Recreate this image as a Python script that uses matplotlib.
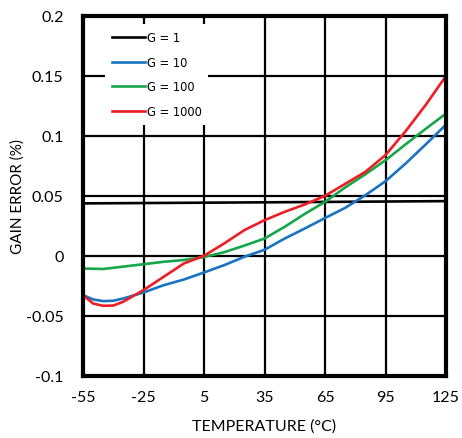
import matplotlib
matplotlib.use("Agg")
import matplotlib.pyplot as plt

plt.rcParams['font.family'] = ['Lato', 'DejaVu Sans']

temps = [-55, -50, -45, -40, -35, -25, -15, -5, 5, 15, 25, 35, 45, 55, 65, 75, 85, 95, 105, 115, 125]

g1_t = [-55, 35, 125]
g1 = [0.0437, 0.0446, 0.0456]

g10 = [-0.0328, -0.0364, -0.0378, -0.0375, -0.0356, -0.0306, -0.0245, -0.0198, -0.0139,
       -0.0078, -0.0008, 0.0050, 0.0144, 0.0228, 0.0315, 0.0400, 0.0505, 0.0622, 0.0770,
       0.0930, 0.1094]

g100 = [-0.0106, -0.0108, -0.0110, -0.0100, -0.0090, -0.0070, -0.0050, -0.0035, -0.0010,
        0.0030, 0.0085, 0.0144, 0.0242, 0.0350, 0.0450, 0.0570, 0.0680, 0.0797, 0.0930,
        0.1060, 0.1186]

g1000 = [-0.0328, -0.0398, -0.0417, -0.0415, -0.0383, -0.0286, -0.0175, -0.0064, 0.0000,
         0.0103, 0.0214, 0.0297, 0.0367, 0.0428, 0.0500, 0.0600, 0.0700, 0.0840, 0.1040,
         0.1260, 0.1500]

labels = ["G = 1", "G = 10", "G = 100", "G = 1000"]
colors = ["#000000", "#1a72c2", "#16a64a", "#ee1d23"]

xticks = [-55, -25, 5, 35, 65, 95, 125]
yticks = [-0.1, -0.05, 0, 0.05, 0.1, 0.15, 0.2]
yticklabels = ["-0.1", "-0.05", "0", "0.05", "0.1", "0.15", "0.2"]

fig = plt.figure(figsize=(4.62, 4.39), dpi=100)
ax = fig.add_axes([0.1797, 0.1419, 0.7857, 0.8194])

ax.plot(g1_t, g1, color=colors[0], lw=1.9, label=labels[0])
ax.plot(temps, g10, color=colors[1], lw=1.9, label=labels[1])
ax.plot(temps, g100, color=colors[2], lw=1.9, label=labels[2])
ax.plot(temps, g1000, color=colors[3], lw=1.9, label=labels[3])

ax.set_xlim(-55, 125)
ax.set_ylim(-0.1, 0.2)
ax.set_xticks(xticks)
ax.set_xticklabels([str(t) for t in xticks])
ax.set_yticks(yticks)
ax.set_yticklabels(yticklabels)
ax.tick_params(axis='both', length=0, labelsize=11.5)
ax.tick_params(axis='y', pad=14)
ax.tick_params(axis='x', pad=10)
ax.grid(True, color='black', lw=1.6)
ax.set_axisbelow(True)
for s in ax.spines.values():
    s.set_linewidth(3.0)

ax.set_xlabel("TEMPERATURE (°C)", fontsize=11.5, labelpad=11)
ax.set_ylabel("GAIN ERROR (%)", fontsize=11, labelpad=1)

leg = ax.legend(loc='upper left', bbox_to_anchor=(0.06, 0.978), borderaxespad=0,
                frameon=True, fancybox=False, framealpha=1, facecolor='white',
                edgecolor='none', prop={'family': 'DejaVu Sans', 'size': 8.3},
                handlelength=2.9, handletextpad=0.12,
                labelspacing=1.02, borderpad=0.6)
leg.set_zorder(5)

fig.savefig("out.png", dpi=100)
